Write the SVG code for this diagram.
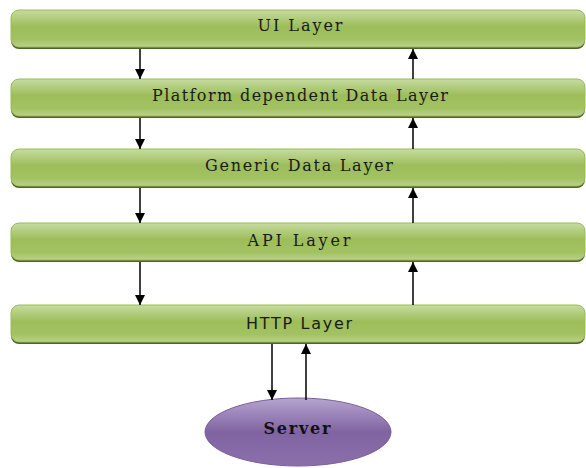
<svg xmlns="http://www.w3.org/2000/svg" width="586" height="468" viewBox="0 0 586 468">
<defs>
<linearGradient id="g" x1="0" y1="0" x2="0" y2="1">
<stop offset="0" stop-color="#c6dca0"/>
<stop offset="0.45" stop-color="#9dbd5a"/>
<stop offset="0.8" stop-color="#a3c263"/>
<stop offset="1" stop-color="#b9d28a"/>
</linearGradient>
<linearGradient id="p" x1="0" y1="0" x2="0" y2="1">
<stop offset="0" stop-color="#b6a4cf"/>
<stop offset="0.5" stop-color="#8064a2"/>
<stop offset="1" stop-color="#8a70ab"/>
</linearGradient>
<marker id="ah" viewBox="0 0 10 10" refX="10" refY="5" markerWidth="10" markerHeight="10" markerUnits="userSpaceOnUse" orient="auto">
<path d="M0,0 L10,5 L0,10 z" fill="#000"/>
</marker>
</defs>
<style>
.sh{fill:#4f6228;}
.bar{fill:url(#g);stroke:#9bbb59;stroke-width:1;}
.t{font-family:"DejaVu Serif","Liberation Serif",serif;font-size:16px;fill:#1a1a1a;text-anchor:middle;}
.ts{font-family:"DejaVu Sans","Liberation Sans",sans-serif;font-size:16px;fill:#1a1a1a;text-anchor:middle;}
.c line{stroke:#000;stroke-width:1.5;marker-end:url(#ah);}
</style>
<rect width="586" height="468" fill="#fff"/>
<g id="ui">
<rect class="sh" x="11" y="12" width="574" height="37" rx="8"/>
<rect class="bar" x="11" y="10" width="574" height="37" rx="8"/>
<text class="t" x="300" y="31" textLength="85" lengthAdjust="spacing">UI Layer</text>
</g>
<g id="platform">
<rect class="sh" x="11" y="81" width="574" height="37" rx="8"/>
<rect class="bar" x="11" y="79" width="574" height="37" rx="8"/>
<text class="t" x="300" y="101" textLength="296" lengthAdjust="spacing">Platform dependent Data Layer</text>
</g>
<g id="generic">
<rect class="sh" x="11" y="151" width="574" height="37" rx="8"/>
<rect class="bar" x="11" y="149" width="574" height="37" rx="8"/>
<text class="t" x="299" y="171" textLength="188" lengthAdjust="spacing">Generic Data Layer</text>
</g>
<g id="api">
<rect class="sh" x="11" y="225" width="574" height="37" rx="8"/>
<rect class="bar" x="11" y="223" width="574" height="37" rx="8"/>
<text class="t" x="299" y="246" textLength="103" lengthAdjust="spacing">API Layer</text>
</g>
<g id="http">
<rect class="sh" x="11" y="307" width="574" height="37" rx="8"/>
<rect class="bar" x="11" y="305" width="574" height="37" rx="8"/>
<text class="ts" x="299" y="329" textLength="106" lengthAdjust="spacing">HTTP Layer</text>
</g>
<g id="server">
<ellipse cx="298" cy="432" rx="93" ry="34" fill="url(#p)" stroke="#7a5f9c" stroke-width="1"/>
<text x="297" y="434" text-anchor="middle" font-family="DejaVu Serif, serif" font-weight="bold" font-size="16" fill="#111" textLength="67" lengthAdjust="spacing">Server</text>
</g>
<g class="c" id="connectors">
<line x1="140" y1="49" x2="140" y2="79"/>
<line x1="140" y1="118" x2="140" y2="149"/>
<line x1="140" y1="188" x2="140" y2="223"/>
<line x1="140" y1="262" x2="140" y2="305"/>
<line x1="413" y1="79" x2="413" y2="49"/>
<line x1="413" y1="149" x2="413" y2="118"/>
<line x1="413" y1="223" x2="413" y2="188"/>
<line x1="413" y1="305" x2="413" y2="262"/>
<line x1="272" y1="344" x2="272" y2="400"/>
<line x1="306" y1="400" x2="306" y2="344"/>
</g>
</svg>
